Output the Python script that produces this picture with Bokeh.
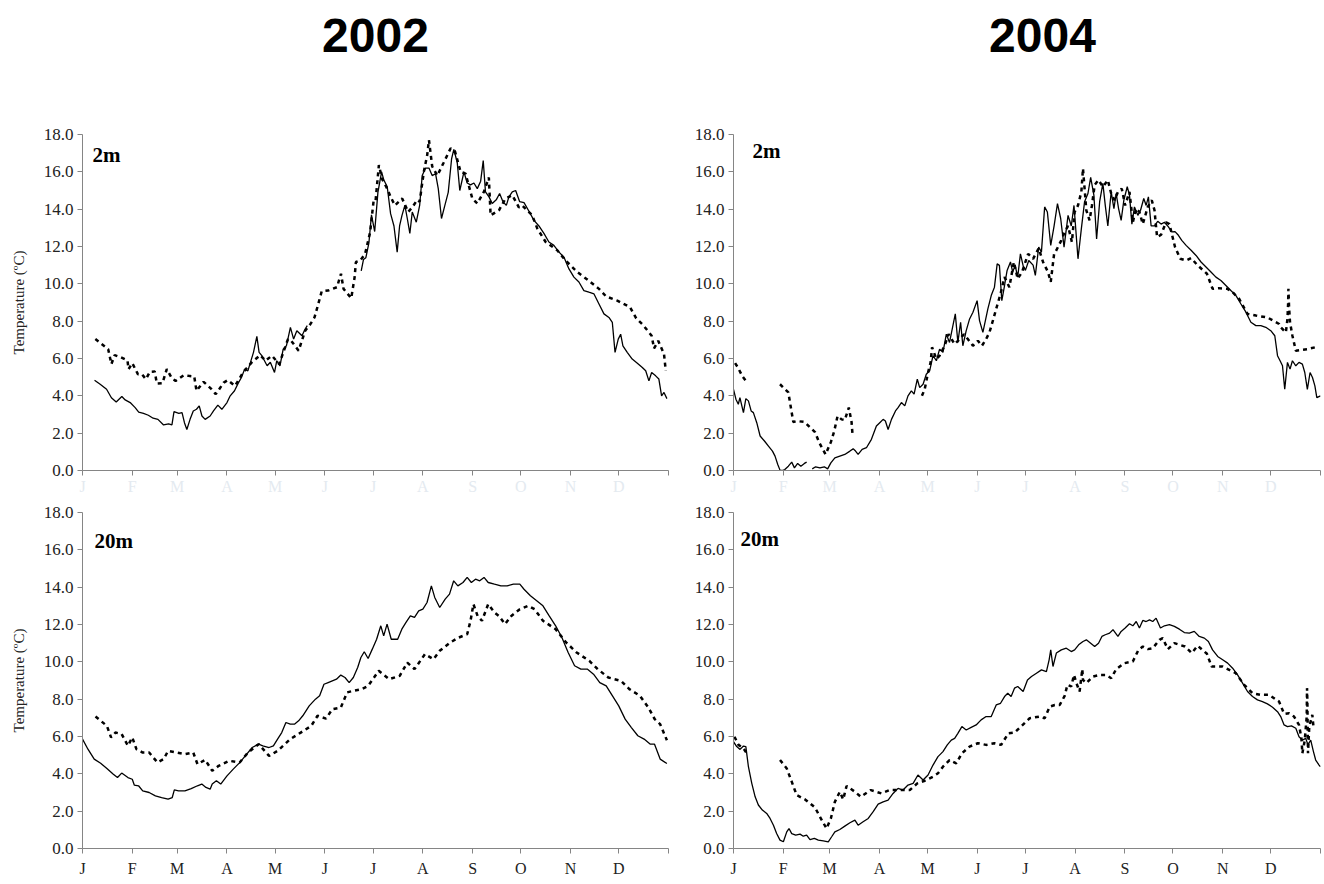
from bokeh.plotting import figure
from bokeh.layouts import column, row
from bokeh.models import Range1d, FixedTicker, Label, ColumnDataSource
from bokeh.core.properties import value
from bokeh.embed import file_html
from bokeh.resources import INLINE

NaN = float("nan")

# ---------------- data ----------------
years = ["2002", "2004"]
depths = ["2m", "20m"]
y_ticks = [0, 2, 4, 6, 8, 10, 12, 14, 16, 18]
y_tick_labels = ["0.0", "2.0", "4.0", "6.0", "8.0", "10.0", "12.0", "14.0", "16.0", "18.0"]
month_labels = ["J", "F", "M", "A", "M", "J", "J", "A", "S", "O", "N", "D", ""]
month_starts_2002 = [0, 31, 59, 90, 120, 151, 181, 212, 243, 273, 304, 334, 365]
month_starts_2004 = [0, 31, 60, 91, 121, 152, 182, 213, 244, 274, 305, 335, 366]
y_axis_title = "Temperature (\u00baC)"

# (day of year, temperature) pairs
solid_2002_2m = [(7.5,4.84),(11,4.62),(15,4.35),(18,3.9),(21,3.67),(24.5,3.96),(26.6,3.78),(29.7,3.64),(32.8,3.37),(35,3.13),(38,3.06),(41,2.96),(44,2.8),(47,2.74),(50.5,2.44),(53.6,2.5),(55.7,2.44),(57,3.15),(60,3.06),(62,3.1),(63.5,2.56),(65,2.2),(67,2.74),(69,3.19),(71,3.28),(72.7,3.46),(74.4,2.92),(76.4,2.74),(79.5,2.92),(81.6,3.19),(84.3,3.5),(86.8,3.28),(90,3.64),(92,4.0),(94.7,4.27),(97,4.68),(99,4.98),(101,5.43),(103,5.34),(106.5,6.33),(108.6,7.19),(110,6.33),(111.7,6.15),(115,5.61),(117,5.8),(119.6,5.25),(121,5.88),(123,5.61),(125,6.5),(127,6.68),(129.5,7.67),(131.5,7.04),(133.5,7.49),(136.7,7.22),(138.7,7.58),(140,7.76),(141,NaN),(173.6,10.7),(175,11.3),(176.5,11.4),(178.4,12.2),(180,13.7),(182,12.8),(184,14.9),(186.3,16.0),(187.7,15.56),(189.8,15.2),(191.9,13.76),(194,13.1),(196,11.7),(197.5,13.1),(199,13.67),(200.8,14.2),(202.3,13.5),(203.9,12.7),(205.4,13.85),(207.9,13.3),(210,14.2),(211.6,15.8),(213.7,16.2),(215.8,16.2),(217.8,15.8),(219.9,15.9),(221.6,15.1),(223.6,13.5),(225.7,14.2),(227.8,14.9),(229.9,16.7),(231.3,17.2),(233.4,16.5),(235,15.0),(237.6,16.0),(239.6,15.4),(241.7,15.3),(243.8,15.4),(245.9,15.1),(248,15.5),(249.6,16.6),(251,14.93),(253.2,14.66),(255.2,14.3),(257.7,14.5),(259.8,14.84),(261.9,14.4),(264,14.2),(265.6,14.66),(267.7,14.93),(269.8,15.0),(272.3,14.4),(275,14.35),(278,13.9),(281.2,13.4),(284.3,13.1),(287.4,12.7),(290.5,12.24),(293.6,12.06),(296.8,11.7),(299.9,11.43),(303,10.8),(306.1,10.36),(309.2,10.1),(312.3,9.64),(315.4,9.55),(318.6,9.46),(321.7,8.92),(324.8,8.39),(327.9,8.2),(330,7.94),(331.7,6.33),(333.7,7.04),(335.2,7.3),(336.6,6.68),(339.3,6.33),(342.4,5.97),(345.6,5.75),(348.7,5.52),(350.8,5.34),(352.8,4.8),(354.5,5.25),(357,5.07),(359,4.9),(360.7,4.0),(362.2,4.18),(364,3.85)]

dashed_2002_2m = [(8,7.04),(16,6.5),(18,5.7),(20,6.18),(24,6.06),(28,5.9),(28.7,5.43),(31,5.75),(34.5,5.16),(37,5.16),(39.5,4.89),(42,5.29),(45,5.3),(46.3,4.66),(49.8,4.68),(52.5,5.43),(55.7,4.93),(58,4.8),(63,5.1),(66,5.07),(69.6,5.04),(71,4.27),(75.4,4.75),(80,4.39),(83,4.09),(88,4.71),(90.5,4.84),(95,4.53),(100,5.25),(105.5,5.8),(110.7,6.18),(114,5.88),(118,6.15),(122.5,5.7),(128,7.04),(130,6.95),(134.6,6.42),(138.7,7.49),(142,7.85),(144.5,8.2),(146.6,8.84),(149,9.6),(152.9,9.64),(158.5,9.82),(161,10.54),(162.6,9.73),(167.4,9.23),(169.5,10.36),(170.3,11.17),(173,11.25),(176,11.6),(179.2,12.78),(180.3,13.67),(181.3,14.43),(182.5,14.4),(184.6,16.36),(186.7,15.6),(189.8,15.1),(191.9,14.66),(194.6,14.2),(199.1,14.57),(202.9,13.85),(205.4,14.1),(208.5,14.5),(210,14.4),(212.6,16.0),(214.7,16.9),(215.8,17.7),(217.8,16.3),(221,15.8),(225,16.5),(229.3,17.26),(232,17.1),(235.5,16.0),(238.6,15.9),(242.8,14.57),(245.9,14.3),(250,14.93),(253.1,15.7),(254.2,13.67),(259.4,13.94),(263.5,14.57),(267.7,14.75),(271.8,14.1),(273.9,14.2),(280.1,13.67),(283.3,12.96),(288.5,12.24),(295.7,11.8),(300.9,11.25),(308.2,10.63),(314.4,10.23),(321.7,9.73),(326.2,9.32),(333.1,9.1),(341,8.75),(344.9,8.15),(349.1,7.8),(354.5,7.22),(356,6.54),(358.6,6.95),(362.2,6.24),(363.3,5.34)]

solid_2004_2m = [(0,4.35),(1.5,3.82),(3,3.55),(4,3.9),(6.2,3.1),(7.7,3.85),(9.3,3.73),(11,3.19),(12.4,3.1),(14.5,2.56),(16.6,1.85),(19.3,1.58),(21.8,1.31),(24.3,1.04),(25.9,0.77),(27.6,0.32),(29,0.02),(30.5,0.0),(32,0.05),(34.2,0.23),(36.3,0.45),(38,0.14),(40,0.38),(42,0.23),(44.2,0.38),(45.6,0.45),(47,NaN),(49.1,0.09),(51.2,0.2),(53.9,0.14),(56.6,0.2),(58.7,0.09),(60.7,0.41),(63.2,0.68),(66.3,0.77),(69.4,0.86),(72.6,1.04),(74.6,1.16),(76.1,1.04),(77.7,0.86),(80.2,1.13),(82.9,1.22),(86,1.67),(89.1,2.38),(91.2,2.56),(93.3,2.74),(94.7,2.65),(96.4,2.2),(98.5,2.74),(101,3.19),(102.6,3.37),(104.7,3.64),(106.8,3.46),(108.8,4.0),(110.9,4.27),(112.6,4.09),(114.6,4.89),(116.1,4.44),(118.2,4.62),(120.2,5.16),(122.3,5.34),(124.4,6.15),(126.5,5.88),(128.5,6.5),(130.6,6.33),(132.7,7.3),(134.7,6.86),(136.8,7.76),(138.3,8.39),(139.9,6.86),(141.6,7.94),(143,6.68),(145.1,7.49),(147.2,8.12),(149.3,8.48),(151.9,9.1),(153.4,8.03),(155.5,7.4),(158.6,8.66),(160.7,9.37),(162.7,9.82),(164.4,11.07),(165.8,10.99),(167.3,9.1),(169,9.91),(170.6,10.72),(172.7,11.17),(174.1,10.63),(175.6,10.99),(177.2,10.36),(178.9,11.61),(180.5,11.0),(182,10.72),(184.1,11.25),(186.8,11.0),(188.2,10.45),(190.3,11.97),(192,11.7),(194,14.12),(195.7,13.85),(197.8,12.06),(199.9,13.1),(202,14.3),(204,13.5),(206.1,11.97),(208.6,13.67),(210.6,13.1),(212.3,14.2),(214.8,11.34),(216.9,12.96),(218.9,14.4),(221,14.84),(222.7,15.7),(224.7,14.75),(226.4,12.4),(228.3,14.4),(230.3,15.38),(231.8,14.2),(233.4,13.1),(235.5,14.93),(237.2,14.03),(238.6,14.84),(240.1,14.03),(241.7,13.4),(243.4,14.48),(245.5,15.2),(246.9,14.75),(248.4,13.2),(250,14.12),(252.1,13.67),(253.8,13.94),(255.8,14.57),(257.3,14.2),(258.7,14.66),(260.4,13.1),(262.5,13.1),(264.5,13.35),(266.6,13.2),(268.7,13.3),(271.2,13.05),(273.2,12.78),(275.3,12.8),(277.4,12.6),(279.5,12.33),(282.2,12.06),(285.3,11.8),(288.4,11.52),(291.5,11.17),(294.6,10.9),(297.7,10.63),(300.8,10.36),(303.9,10.18),(307,9.91),(310.1,9.64),(313.3,9.37),(316.4,8.92),(319.5,8.48),(322.6,7.94),(325.7,7.76),(328.8,7.76),(331.9,7.67),(335,7.49),(337.5,7.22),(339.2,6.15),(340.8,5.88),(342.3,5.61),(343.7,4.35),(345.4,5.79),(347,5.43),(348.5,5.88),(350.6,5.61),(352.6,5.79),(354.7,5.7),(356.2,5.25),(357.8,4.35),(359.5,5.25),(361,4.98),(362.5,4.53),(363.7,3.9),(366,4.0)]

dashed_2004_2m = [(1,5.75),(2.7,5.52),(5.6,5.04),(7.7,4.8),(9.3,4.89),(10,NaN),(29,4.62),(34.2,4.18),(35.9,3.3),(37.3,2.6),(39.4,2.65),(44.2,2.6),(50.8,2.06),(53.5,1.49),(57.4,0.86),(60.7,1.52),(62.8,2.11),(64.9,2.92),(67.4,2.74),(69.4,2.7),(71.9,3.37),(73.6,2.6),(74.2,1.94),(75,NaN),(117.5,4.0),(119.2,4.35),(121.3,5.25),(122.9,5.79),(123.8,6.6),(126.5,5.97),(128.5,6.15),(131.6,6.68),(134.1,7.3),(137.9,6.77),(141,7.04),(143.7,7.3),(146.1,7.04),(149.3,6.68),(152.4,6.95),(154.9,6.68),(157.5,7.04),(159.6,7.4),(162.3,8.2),(164.4,8.84),(166.5,9.46),(169,10.36),(172,9.82),(174.8,11.17),(177.2,10.27),(179.9,10.63),(183.7,11.6),(186.8,11.34),(190.3,11.9),(193,11.17),(196.1,10.63),(197.8,10.1),(199.9,11.6),(201.3,11.8),(204.4,12.33),(206.5,12.78),(208.6,13.1),(211,12.24),(212.7,13.85),(214.8,14.2),(216.9,14.93),(217.9,16.18),(220,13.94),(222,13.4),(223.5,14.2),(225.2,15.3),(227.6,15.56),(230.3,15.2),(233.4,15.56),(235.5,14.84),(237.6,14.48),(239.7,14.93),(242.1,15.1),(244.2,14.2),(246.9,14.93),(249,13.3),(251,14.03),(253.1,13.85),(255.2,13.2),(258.3,14.12),(260.8,14.48),(262.5,13.94),(264.1,12.5),(266.6,12.63),(269.7,13.3),(271.8,13.2),(275.3,11.97),(278.6,11.34),(282.2,11.25),(285.3,11.38),(289.4,10.99),(295.2,10.54),(298.7,9.73),(302.3,9.77),(308,9.73),(311.2,9.55),(315.3,9.19),(320.5,8.39),(325.7,8.3),(332.9,8.2),(340.2,7.85),(341.2,7.67),(344.4,7.4),(345.4,8.12),(345.8,8.92),(346,9.73),(346.4,8.75),(347,7.94),(348.5,7.22),(350.6,6.42),(354.7,6.47),(357.8,6.5),(362.6,6.6)]

solid_2002_20m = [(0,5.86),(3.4,5.32),(7.3,4.79),(11.3,4.57),(15.2,4.29),(19.2,3.98),(21.8,3.8),(24.4,4.04),(28.3,3.8),(31,3.71),(32.3,3.39),(34.9,3.36),(37.5,3.09),(41.5,3.0),(45.4,2.82),(49.3,2.73),(53.3,2.64),(55.9,2.73),(57.2,3.14),(59.8,3.09),(63.8,3.09),(67.7,3.21),(71.6,3.36),(74.3,3.45),(76.9,3.27),(79.5,3.18),(80.8,3.45),(83.4,3.63),(86.1,3.45),(90,3.89),(93.9,4.25),(97.9,4.6),(101.8,5.0),(105.7,5.41),(109.7,5.59),(112.3,5.5),(116.2,5.41),(118.9,5.5),(121.5,5.86),(124.1,6.21),(126.7,6.75),(129.4,6.66),(132,6.66),(134.6,6.84),(137.2,7.11),(141.2,7.64),(145.1,8.0),(147.7,8.18),(150.4,8.8),(153,8.89),(155.6,8.98),(158.2,9.07),(160.9,9.29),(163.5,9.16),(166.1,8.89),(168.7,9.16),(171.4,9.7),(173.4,10.23),(175.5,10.54),(177.9,10.18),(180.5,10.68),(183.2,11.21),(185.8,11.93),(187.6,11.39),(189.7,12.02),(192.3,11.21),(196.3,11.21),(198.9,11.75),(201.5,12.11),(204.2,12.46),(206.8,12.38),(209.4,12.73),(212,12.82),(214.6,13.18),(217.3,14.07),(219.4,13.45),(222.5,12.91),(225.9,13.36),(228.6,13.63),(231.2,14.34),(233.8,14.07),(237,14.25),(239.6,14.52),(242.2,14.25),(244.8,14.43),(247.4,14.34),(250.1,14.52),(252.7,14.25),(256.6,14.16),(260.6,14.07),(264.5,14.07),(268.4,14.16),(272.4,14.16),(275,13.89),(279,13.54),(282.9,13.27),(286.8,13.0),(290.7,12.46),(294.7,11.93),(298.6,11.3),(302.5,10.5),(306.5,9.79),(310.4,9.61),(314.4,9.61),(318.3,9.34),(322.2,8.89),(326.2,8.71),(330.1,8.18),(334,7.64),(338,6.93),(341.9,6.48),(345.9,6.04),(349.8,5.86),(353.7,5.59),(356.3,5.59),(359.8,4.79),(364,4.55)]

dashed_2002_20m = [(8.1,7.07),(15.2,6.57),(17.8,5.95),(20.5,6.21),(24.4,6.13),(28.3,5.5),(31,5.95),(33.6,5.32),(37.5,5.14),(41.5,5.14),(46.7,4.61),(50.6,4.79),(53.3,5.23),(58.5,5.14),(63.8,5.05),(69,5.14),(71.6,4.52),(76.4,4.75),(80.8,4.16),(84.8,4.43),(91.3,4.7),(97.9,4.61),(103.1,5.14),(109.7,5.59),(116.2,4.96),(121.5,5.23),(129.4,5.86),(135.9,6.21),(142.5,6.57),(146.4,7.11),(151.7,6.96),(155.6,7.46),(160.9,7.55),(164.8,8.36),(168.7,8.45),(174,8.54),(177.9,8.71),(184.5,9.52),(191,9.07),(197.6,9.25),(202.3,9.96),(206.8,9.61),(213.3,10.41),(218.6,10.14),(222.5,10.59),(229.1,11.04),(234.3,11.3),(239.6,11.48),(241.7,12.2),(243.5,13.09),(246.1,12.46),(248.8,12.2),(252.7,13.09),(256.6,12.64),(259.3,12.46),(263.2,12.02),(267.1,12.46),(272.4,12.82),(277.6,13.0),(281.6,12.82),(286.8,12.2),(294.7,11.75),(301.2,11.04),(307.8,10.5),(315.7,10.05),(320.9,9.61),(327.5,9.16),(335.4,8.98),(340.6,8.54),(347.2,8.18),(352.5,7.55),(356.4,6.93),(359.8,6.66),(364,5.8)]

solid_2004_20m = [(0,5.72),(2,5.46),(4.1,5.31),(6.2,5.49),(7.7,5.46),(9.3,4.38),(11.4,3.49),(13.5,2.77),(15.5,2.33),(18,2.06),(20.7,1.88),(22.8,1.61),(24.9,1.25),(26.9,0.8),(29,0.45),(31.1,0.36),(33.2,0.89),(34.6,1.07),(36.3,0.8),(38.8,0.72),(41.5,0.77),(43.5,0.66),(45.6,0.72),(47.7,0.48),(50.4,0.54),(52.9,0.45),(56,0.41),(59.1,0.36),(61.2,0.63),(63.2,0.89),(66.3,1.02),(69.4,1.2),(72.6,1.38),(75.7,1.52),(77.7,1.25),(80.8,1.43),(84,1.61),(87.1,1.97),(90.2,2.38),(93.3,2.5),(96.4,2.59),(99.5,2.95),(102.6,3.22),(105.7,3.13),(108.8,3.4),(112,3.49),(115,3.94),(118.2,3.67),(121.3,3.94),(124.4,4.47),(127.5,4.92),(130.6,5.19),(133.3,5.55),(135.8,5.81),(137.9,5.9),(139.9,6.17),(142.4,6.53),(145.1,6.35),(148.2,6.49),(151.3,6.62),(154.4,6.89),(157.5,7.07),(160.7,7.07),(163.8,7.69),(166.5,7.78),(169,8.14),(171,8.32),(173.1,8.14),(175.2,8.59),(177.2,8.68),(180.6,8.41),(183.3,9.03),(185.8,9.21),(188.9,9.39),(192,9.57),(195.1,9.48),(196.8,10.11),(197.8,10.64),(199.2,9.75),(201.3,10.47),(204.4,10.64),(207.5,10.73),(210.6,10.55),(212.7,10.64),(215.2,10.91),(217.9,11.09),(220,11.18),(222.7,11.0),(225.2,10.82),(227.6,11.0),(229.7,11.36),(231.8,11.45),(234.5,11.54),(236.6,11.72),(239.7,11.36),(241.7,11.63),(244.2,11.81),(246.9,12.04),(249,11.93),(251.1,12.16),(253.1,11.81),(255.2,12.22),(257.3,12.16),(259.4,12.25),(261.4,12.16),(263.5,12.34),(266.2,11.81),(268.7,11.93),(271.8,11.99),(274.9,11.9),(278,11.75),(281.1,11.57),(284.2,11.54),(287.3,11.63),(290.4,11.36),(293.6,11.27),(296.1,11.09),(298.7,10.64),(301.9,10.29),(305,10.11),(308.1,9.93),(311.2,9.66),(314.3,9.3),(317.4,8.86),(320.5,8.41),(323.6,8.14),(326.7,7.96),(329.8,7.87),(332.9,7.75),(336.1,7.57),(339.2,7.33),(341.2,7.07),(343.3,6.62),(345.4,6.53),(347.9,6.57),(350.6,6.44),(352.6,5.99),(354.7,5.81),(356.8,5.9),(358.2,5.55),(359.9,5.81),(361.6,5.19),(363,4.74),(365.1,4.47),(366,4.38)]

dashed_2004_20m = [(0.6,5.99),(3.1,5.55),(6.2,5.37),(8.9,5.01),(10,NaN),(29,4.74),(33.2,4.29),(36.3,3.58),(39.4,2.86),(44.6,2.63),(50.8,2.2),(53.9,1.7),(58,1.07),(60.7,1.61),(63.2,2.5),(66.3,3.04),(68.4,2.63),(70.5,3.35),(75.7,3.04),(79.4,2.77),(85.6,3.13),(92.2,2.95),(97.4,3.13),(104.7,3.13),(109.9,3.13),(114.6,3.49),(119.2,3.63),(124.4,3.85),(127.5,4.03),(130.6,4.38),(134.7,4.74),(138.9,4.56),(142.4,5.1),(147.2,5.46),(152.4,5.64),(157.5,5.55),(162.7,5.64),(166.9,5.55),(171.4,6.17),(175.2,6.21),(179.4,6.55),(184.7,6.98),(191,7.07),(194,6.98),(197.2,7.6),(200.3,7.69),(203.4,7.69),(206.5,8.18),(208.2,8.77),(210.6,8.68),(212.3,9.3),(213.8,8.86),(215.8,8.41),(217.5,9.61),(217.9,9.03),(220,8.86),(224.1,9.21),(228.3,9.3),(232.4,9.3),(235.5,9.12),(238.6,9.61),(243.8,9.93),(249,10.02),(252.5,10.64),(255.2,10.82),(258.3,10.68),(261.4,10.73),(265.6,11.18),(267.6,11.27),(270.8,10.68),(274.9,11.0),(281.5,10.82),(285.7,10.47),(289.4,10.86),(295.2,10.43),(298.1,9.75),(305,9.75),(313.2,9.39),(318.4,8.77),(323.6,8.32),(328.8,8.23),(334,8.23),(340.2,7.87),(343.3,7.21),(346.4,7.25),(349.5,7.07),(352.6,6.62),(354.1,5.9),(354.7,5.1),(356.2,5.81),(357.4,7.07),(357.6,8.59),(357.8,7.96),(358.2,5.1),(359,6.53),(360.9,7.16),(361.6,6.53),(363,6.49)]

# ---------------- style ----------------
SERIF = "'Liberation Serif', 'Times New Roman', serif"
NARROW = "'Liberation Sans Narrow', 'Arial Narrow', 'Liberation Sans', sans-serif"
AXIS_GREY = "#858585"
TEXT_DARK = "#222222"
FAINT = "#e4eaf0"

LEFT_W, RIGHT_W = 689, 634
TITLE_H, TOP_H, BOT_H = 100, 400, 380


def make_panel(top, left_col, month_ticks, solid, dashed, depth_text, depth_pos):
    xmax = month_ticks[-1]
    if left_col:
        width, mbl, mbr = LEFT_W, 82, 21
    else:
        width, mbl, mbr = RIGHT_W, 44, 3
    if top:
        height, mbt, mbb = TOP_H, 34, 30
    else:
        height, mbt, mbb = BOT_H, 12, 32
    p = figure(width=width, height=height, x_range=Range1d(0, xmax),
               y_range=Range1d(0, 18), output_backend="svg",
               toolbar_location=None, min_border_left=mbl,
               min_border_right=mbr, min_border_top=mbt,
               min_border_bottom=mbb, background_fill_color="white",
               border_fill_color="white")
    p.grid.visible = False
    p.outline_line_color = None

    # y axis
    p.yaxis.ticker = FixedTicker(ticks=y_ticks)
    p.yaxis.major_label_overrides = {t: s for t, s in zip(y_ticks, y_tick_labels)}
    p.yaxis.minor_tick_line_color = None
    p.yaxis.major_tick_in = 0
    p.yaxis.major_tick_out = 5
    p.yaxis.major_label_standoff = 4
    p.yaxis.axis_line_color = AXIS_GREY
    p.yaxis.major_tick_line_color = AXIS_GREY
    p.yaxis.major_label_text_font = SERIF
    p.yaxis.major_label_text_font_size = "17px"
    p.yaxis.major_label_text_color = TEXT_DARK
    if left_col:
        p.yaxis.axis_label = y_axis_title
        p.yaxis.axis_label_text_font = SERIF
        p.yaxis.axis_label_text_font_style = "normal"
        p.yaxis.axis_label_text_font_size = "15px"
        p.yaxis.axis_label_text_color = TEXT_DARK
        p.yaxis.axis_label_standoff = 14

    # x axis
    p.xaxis.ticker = FixedTicker(ticks=month_ticks)
    p.xaxis.major_label_overrides = {t: s for t, s in zip(month_ticks, month_labels)}
    p.xaxis.minor_tick_line_color = None
    p.xaxis.major_tick_in = 0
    p.xaxis.major_tick_out = 5
    p.xaxis.major_label_standoff = 2 if top else 6
    p.xaxis.axis_line_color = AXIS_GREY
    p.xaxis.major_tick_line_color = AXIS_GREY
    p.xaxis.major_label_text_font = SERIF
    p.xaxis.major_label_text_font_size = "16px"
    p.xaxis.major_label_text_color = FAINT if top else TEXT_DARK

    sd = ColumnDataSource(dict(x=[d for d, _ in solid], y=[v for _, v in solid]))
    dd = ColumnDataSource(dict(x=[d for d, _ in dashed], y=[v for _, v in dashed]))
    p.line("x", "y", source=dd, line_color="black", line_width=2.5,
           line_dash="4 4", line_cap="butt")
    p.line("x", "y", source=sd, line_color="black", line_width=1.3)

    p.add_layout(Label(x=depth_pos[0], y=depth_pos[1], text=depth_text,
                       text_font=SERIF, text_font_style="bold",
                       text_font_size="21px", text_color="black",
                       text_align="left", text_baseline="middle"))
    return p


# title strip (positions in screen pixels)
title_fig = figure(width=LEFT_W + RIGHT_W, height=TITLE_H,
                   x_range=Range1d(0, LEFT_W + RIGHT_W), y_range=Range1d(0, TITLE_H),
                   output_backend="svg", toolbar_location=None, min_border=0,
                   background_fill_color="white", border_fill_color="white")
title_fig.axis.visible = False
title_fig.grid.visible = False
title_fig.outline_line_color = None
title_src = ColumnDataSource(dict(x=[375, 1042], y=[TITLE_H - 35, TITLE_H - 35], t=years))
title_fig.text("x", "y", text="t", source=title_src, text_align="center",
               text_baseline="middle", text_font=value(NARROW),
               text_font_style="bold", text_font_size="48px", text_color="black")

p_tl = make_panel(True, True, month_starts_2002, solid_2002_2m, dashed_2002_2m,
                  depths[0], (6.2, 16.9))
p_tr = make_panel(True, False, month_starts_2004, solid_2004_2m, dashed_2004_2m,
                  depths[0], (11.8, 17.1))
p_bl = make_panel(False, True, month_starts_2002, solid_2002_20m, dashed_2002_20m,
                  depths[1], (7.5, 16.5))
p_br = make_panel(False, False, month_starts_2004, solid_2004_20m, dashed_2004_20m,
                  depths[1], (4.4, 16.6))

layout = column(title_fig,
                row(p_tl, p_tr, spacing=0),
                row(p_bl, p_br, spacing=0), spacing=0)

open("out.html", "w").write(file_html(layout, INLINE))
